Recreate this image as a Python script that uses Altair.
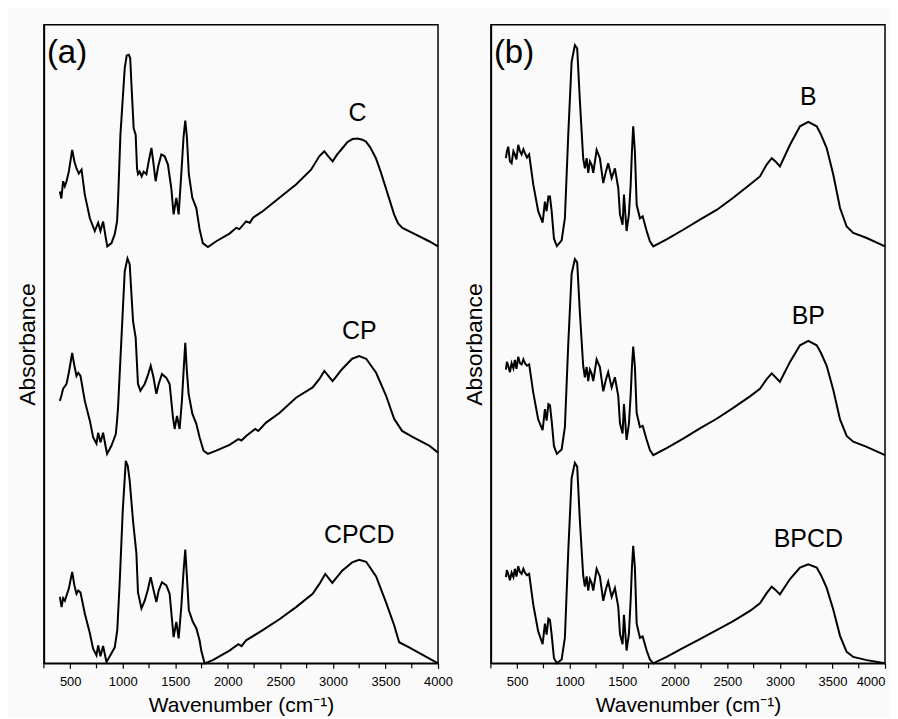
import altair as alt
import pandas as pd

# ---------------- Panel (a) ----------------
C_WN = [402, 416, 433, 449, 465, 487, 519, 540, 560, 582, 608, 639, 687, 734, 766, 788, 813, 839, 853, 893,
        924, 946, 955, 978, 1019, 1038, 1057, 1071, 1083, 1104, 1123, 1136, 1145, 1161, 1180, 1199, 1225, 1247,
        1273, 1290, 1313, 1337, 1367, 1399, 1430, 1462, 1484, 1510, 1532, 1557, 1579, 1595, 1610, 1629, 1662,
        1700, 1731, 1762, 1810, 1890, 2016, 2080, 2110, 2174, 2210, 2240, 2332, 2491, 2649, 2792, 2870, 2918,
        2956, 2997, 3041, 3092, 3136, 3186, 3234, 3279, 3314, 3355, 3409, 3454, 3504, 3544, 3582, 3620, 3661,
        3756, 3915, 4000]
C_A = [0.099, 0.088, 0.115, 0.107, 0.115, 0.130, 0.164, 0.146, 0.135, 0.127, 0.133, 0.094, 0.057, 0.037, 0.050,
       0.037, 0.052, 0.026, 0.013, 0.018, 0.032, 0.052, 0.083, 0.188, 0.292, 0.312, 0.313, 0.308, 0.266, 0.198,
       0.188, 0.135, 0.126, 0.130, 0.1225, 0.130, 0.126, 0.146, 0.167, 0.146, 0.115, 0.138, 0.157, 0.154, 0.141,
       0.104, 0.063, 0.089, 0.063, 0.126, 0.185, 0.210, 0.185, 0.126, 0.089, 0.073, 0.040, 0.018, 0.012, 0.021,
       0.033, 0.042, 0.040, 0.052, 0.050, 0.058, 0.068, 0.089, 0.110, 0.133, 0.154, 0.162, 0.154, 0.146, 0.157,
       0.167, 0.176, 0.181, 0.182, 0.180, 0.177, 0.168, 0.151, 0.130, 0.104, 0.083, 0.063, 0.049, 0.042, 0.034,
       0.021, 0.013]

CP_WN = [402, 416, 433, 465, 487, 519, 540, 560, 577, 598, 639, 687, 718, 750, 766, 788, 813, 839, 851, 893,
         934, 946, 955, 988, 1019, 1045, 1066, 1098, 1123, 1145, 1168, 1209, 1237, 1266, 1290, 1320, 1342, 1373,
         1415, 1446, 1478, 1494, 1516, 1541, 1563, 1579, 1595, 1610, 1627, 1662, 1700, 1731, 1769, 1810, 1890,
         2016, 2100, 2130, 2174, 2260, 2290, 2364, 2491, 2649, 2807, 2870, 2918, 2997, 3088, 3183, 3250, 3316,
         3411, 3506, 3582, 3658, 3753, 3915, 4000]
CP_A = [0.091, 0.099, 0.110, 0.1175, 0.135, 0.166, 0.146, 0.130, 0.135, 0.130, 0.091, 0.060, 0.034, 0.024,
        0.041, 0.026, 0.041, 0.018, 0.008, 0.021, 0.039, 0.060, 0.080, 0.190, 0.294, 0.314, 0.305, 0.216, 0.190,
        0.1175, 0.107, 0.1175, 0.130, 0.146, 0.130, 0.102, 0.1175, 0.133, 0.127, 0.1175, 0.065, 0.047, 0.0675,
        0.047, 0.091, 0.138, 0.182, 0.138, 0.102, 0.071, 0.055, 0.034, 0.013, 0.008, 0.013, 0.022, 0.031, 0.029,
        0.036, 0.047, 0.044, 0.057, 0.072, 0.096, 0.112, 0.125, 0.138, 0.122, 0.141, 0.157, 0.161, 0.157, 0.135,
        0.099, 0.063, 0.044, 0.035, 0.021, 0.010]

CPCD_WN = [402, 418, 433, 449, 487, 519, 540, 560, 577, 598, 639, 687, 718, 750, 766, 788, 813, 845, 877, 924,
           948, 972, 1000, 1029, 1048, 1066, 1098, 1130, 1145, 1178, 1209, 1237, 1266, 1290, 1320, 1342, 1373,
           1415, 1446, 1484, 1510, 1532, 1557, 1579, 1595, 1610, 1629, 1667, 1700, 1731, 1747, 1779, 1857, 2016,
           2100, 2130, 2174, 2332, 2491, 2649, 2807, 2870, 2927, 2994, 3088, 3183, 3250, 3316, 3411, 3506, 3582,
           3630, 3725, 4000]
CPCD_A = [0.104, 0.088, 0.102, 0.098, 0.117, 0.143, 0.122, 0.109, 0.114, 0.111, 0.078, 0.047, 0.023, 0.0125,
          0.028, 0.011, 0.027, 0.002, 0.011, 0.025, 0.052, 0.130, 0.239, 0.317, 0.309, 0.286, 0.223, 0.172, 0.111,
          0.086, 0.098, 0.114, 0.135, 0.117, 0.096, 0.114, 0.127, 0.122, 0.109, 0.041, 0.065, 0.039, 0.088, 0.145,
          0.178, 0.1375, 0.083, 0.065, 0.055, 0.036, 0.020, 0.000, 0.005, 0.020, 0.030, 0.027, 0.036, 0.052, 0.069,
          0.088, 0.109, 0.124, 0.140, 0.126, 0.145, 0.158, 0.162, 0.159, 0.136, 0.095, 0.060, 0.033, 0.025, 0.000]

# ---------------- Panel (b) ----------------
B_WN = [393, 402, 415, 431, 447, 464, 478, 493, 510, 526, 542, 559, 574, 593, 614, 653, 700, 742, 764, 780, 797,
        812, 828, 850, 878, 923, 954, 986, 1018, 1049, 1071, 1097, 1128, 1144, 1161, 1176, 1192, 1208, 1224, 1256,
        1287, 1319, 1344, 1366, 1399, 1430, 1462, 1478, 1503, 1516, 1541, 1563, 1580, 1592, 1604, 1620, 1637, 1668,
        1694, 1732, 1763, 1795, 1922, 2080, 2239, 2398, 2556, 2715, 2810, 2874, 2922, 2958, 3000, 3096, 3191, 3270,
        3350, 3391, 3445, 3508, 3572, 3635, 3698, 3826, 4000]
B_A = [0.151, 0.162, 0.169, 0.146, 0.143, 0.162, 0.157, 0.149, 0.172, 0.162, 0.157, 0.165, 0.159, 0.152, 0.157,
       0.110, 0.068, 0.050, 0.083, 0.068, 0.091, 0.091, 0.068, 0.025, 0.0135, 0.0225, 0.057, 0.188, 0.302, 0.328,
       0.323, 0.240, 0.151, 0.135, 0.151, 0.128, 0.146, 0.141, 0.128, 0.164, 0.151, 0.112, 0.130, 0.143, 0.120,
       0.135, 0.104, 0.063, 0.047, 0.094, 0.037, 0.063, 0.110, 0.162, 0.201, 0.162, 0.078, 0.057, 0.060, 0.037,
       0.021, 0.013, 0.024, 0.039, 0.055, 0.070, 0.089, 0.110, 0.1225, 0.141, 0.151, 0.146, 0.138, 0.172, 0.201,
       0.208, 0.201, 0.188, 0.167, 0.125, 0.073, 0.044, 0.034, 0.026, 0.013]

BP_WN = list(B_WN)
BP_A = [0.140, 0.152, 0.146, 0.136, 0.150, 0.142, 0.155, 0.141, 0.160, 0.150, 0.148, 0.156, 0.150, 0.146, 0.148,
        0.104, 0.062, 0.045, 0.078, 0.060, 0.086, 0.084, 0.060, 0.020, 0.008, 0.015, 0.050, 0.180, 0.290, 0.313,
        0.308, 0.228, 0.146, 0.128, 0.144, 0.122, 0.140, 0.134, 0.122, 0.156, 0.144, 0.106, 0.124, 0.136, 0.112,
        0.128, 0.098, 0.056, 0.040, 0.086, 0.030, 0.055, 0.100, 0.145, 0.176, 0.145, 0.072, 0.050, 0.052, 0.030,
        0.014, 0.006, 0.017, 0.032, 0.048, 0.063, 0.080, 0.098, 0.110, 0.125, 0.134, 0.128, 0.121, 0.152, 0.178,
        0.185, 0.178, 0.166, 0.146, 0.108, 0.062, 0.036, 0.027, 0.019, 0.006]

BPCD_WN = list(B_WN)
BPCD_A = [0.135, 0.146, 0.140, 0.130, 0.142, 0.135, 0.148, 0.136, 0.152, 0.143, 0.140, 0.148, 0.142, 0.138, 0.140,
          0.092, 0.050, 0.030, 0.062, 0.045, 0.070, 0.068, 0.045, 0.008, 0.000, 0.006, 0.040, 0.175, 0.290, 0.314,
          0.308, 0.222, 0.138, 0.120, 0.136, 0.114, 0.132, 0.126, 0.114, 0.148, 0.136, 0.098, 0.116, 0.128, 0.104,
          0.118, 0.088, 0.046, 0.030, 0.076, 0.020, 0.046, 0.100, 0.150, 0.184, 0.150, 0.062, 0.040, 0.042, 0.020,
          0.006, 0.000, 0.010, 0.024, 0.038, 0.052, 0.066, 0.082, 0.094, 0.110, 0.120, 0.115, 0.108, 0.132, 0.150,
          0.155, 0.150, 0.138, 0.118, 0.084, 0.043, 0.018, 0.010, 0.005, 0.000]

OFFSETS = [0.64, 0.32, 0.0]
NAMES_A = ["C", "CP", "CPCD"]
NAMES_B = ["B", "BP", "BPCD"]
MAJOR_TICKS = [500, 1000, 1500, 2000, 2500, 3000, 3500, 4000]
MINOR_TICKS = [250, 750, 1250, 1750, 2250, 2750, 3250, 3750]

FONT = "Liberation Sans"


def build_frames(names, wns, vals):
    rows, labels = [], []
    for name, wn, a, off in zip(names, wns, vals, OFFSETS):
        for i, (w, v) in enumerate(zip(wn, a)):
            rows.append({"series": name, "wn": w, "a": v, "off": off, "order": i})
        # label sits above the O-H band maximum
        tail = [(v, w) for w, v in zip(wn, a) if w > 2500]
        vmax, wmax = max(tail)
        labels.append({"series": name, "wn": wmax, "a": vmax, "off": off})
    return pd.DataFrame(rows), pd.DataFrame(labels)


xscale = alt.Scale(domain=[250, 4000], nice=False, zero=False)
yscale = alt.Scale(domain=[0, 1], nice=False)


def make_xaxis(flush):
    return alt.Axis(
        values=MAJOR_TICKS,
        format="d",
        labelOverlap=False,
        labelFlush=flush,
        title="Wavenumber (cm⁻¹)",
        grid=False,
        labelFont=FONT, labelFontSize=13, labelColor="black", labelPadding=7,
    )


yaxis = alt.Axis(title="Absorbance", labels=False, ticks=False, grid=False)


def panel(names, wns, vals, tag, flush):
    df, lab = build_frames(names, wns, vals)
    base_x = alt.X("wn:Q", scale=xscale, axis=make_xaxis(flush))
    lines = alt.Chart(df).mark_line(color="black", strokeWidth=2).transform_calculate(
        y="datum.a + datum.off"
    ).encode(
        x=base_x,
        y=alt.Y("y:Q", scale=yscale, axis=yaxis),
        detail="series:N",
        order="order:Q",
    )
    text = alt.Chart(lab).mark_text(
        font=FONT, fontSize=25, color="black", baseline="alphabetic", dy=-17
    ).transform_calculate(y="datum.a + datum.off").encode(
        x=base_x, y=alt.Y("y:Q", scale=yscale, axis=yaxis), text="series:N"
    )
    minor = alt.Chart(pd.DataFrame({"wn": MINOR_TICKS})).mark_rule(
        color="black", strokeWidth=1.2, clip=False
    ).encode(x=base_x, y=alt.value(640), y2=alt.value(645))
    tagc = alt.Chart(pd.DataFrame({"t": [tag]})).mark_text(
        font=FONT, fontSize=33, color="black", align="left", baseline="middle"
    ).encode(x=alt.value(3), y=alt.value(28), text="t:N")
    return alt.layer(lines, text, minor, tagc).properties(width=395, height=640)


left = panel(NAMES_A, [C_WN, CP_WN, CPCD_WN], [C_A, CP_A, CPCD_A], "(a)", False)
right = panel(NAMES_B, [B_WN, BP_WN, BPCD_WN], [B_A, BP_A, BPCD_A], "(b)", True)

chart = alt.hconcat(left, right, spacing=9).properties(
    padding={"left": 8, "top": 15, "right": 0, "bottom": 0},
    background="#fafafa",
).configure_view(
    stroke="black", strokeWidth=1.5
).configure_axis(
    domainColor="black", domainWidth=1.5, tickColor="black", tickWidth=1.2, tickSize=5,
    titleFont=FONT, titleFontWeight="normal", titleColor="black",
).configure_axisX(titlePadding=6, titleFontSize=21).configure_axisY(titlePadding=4, titleFontSize=23)

chart.save("out.html", embed_options={"renderer": "svg", "actions": False})
